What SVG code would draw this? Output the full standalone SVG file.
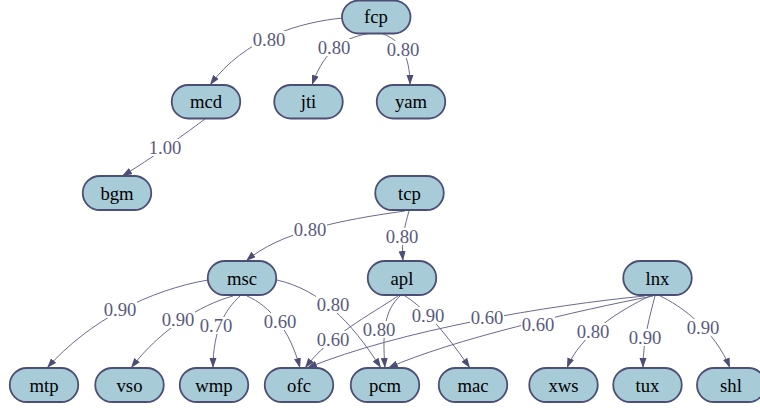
<svg xmlns="http://www.w3.org/2000/svg" width="760" height="410" viewBox="0 0 760 410">
<style>
.node rect{fill:#a8cbd8;stroke:#4c4e75;stroke-width:1.8}
.node text{font-family:'Liberation Serif','Times New Roman',serif;font-size:18.7px;fill:#000;text-anchor:middle}
.edge path{fill:none;stroke:#6a6a8e;stroke-width:1;marker-end:url(#arr)}
.edge text{font-family:'Liberation Serif','Times New Roman',serif;font-size:18.7px;fill:#5a5a80;text-anchor:middle}
</style>
<defs>
<marker id="arr" markerUnits="userSpaceOnUse" markerWidth="11" markerHeight="8" refX="10" refY="3.5" orient="auto">
<path d="M0,0 L10,3.5 L0,7 z" fill="#4c4e75"/>
</marker>
</defs>
<rect width="760" height="410" fill="#fff"/>
<g id="edges" class="edge">
<path d="M343,18 C300,22 245,38 210,85"/>
<path d="M372,33 C345,37 325,48 312,85"/>
<path d="M383,34 C400,40 410,55 410,85"/>
<path d="M205,119 C190,130 150,160 122,176"/>
<path d="M405,211 C340,220 280,232 246,261"/>
<path d="M409,211 C405,225 401,240 403,261"/>
<path d="M208,280 C150,290 90,320 47,368"/>
<path d="M233,296 C200,305 160,330 131,368"/>
<path d="M240,296 C225,310 213,330 213,368"/>
<path d="M247,296 C270,306 290,330 300,368"/>
<path d="M277,280 C320,290 350,320 381,368"/>
<path d="M398,296 C370,315 330,335 305,368"/>
<path d="M400,296 C385,310 382,330 385,368"/>
<path d="M405,296 C420,305 440,325 470,368"/>
<path d="M645,296 C550,305 400,330 307,368"/>
<path d="M653,296 C580,310 450,340 388,368"/>
<path d="M650,296 C620,310 580,335 567,368"/>
<path d="M655,296 C650,315 643,340 643,368"/>
<path d="M660,296 C680,305 715,330 730,368"/>
<g fill="#fff">
<rect x="252" y="31" width="34" height="17"/>
<rect x="317" y="39" width="34" height="17"/>
<rect x="386" y="41" width="34" height="17"/>
<rect x="148" y="139" width="34" height="17"/>
<rect x="293" y="221" width="34" height="17"/>
<rect x="385" y="228" width="34" height="17"/>
<rect x="103" y="301" width="34" height="17"/>
<rect x="161" y="311" width="34" height="17"/>
<rect x="199" y="317" width="34" height="17"/>
<rect x="263" y="313" width="34" height="17"/>
<rect x="316" y="296" width="34" height="17"/>
<rect x="316" y="331" width="34" height="17"/>
<rect x="362" y="321" width="34" height="17"/>
<rect x="411" y="307" width="34" height="17"/>
<rect x="470" y="309" width="34" height="17"/>
<rect x="521" y="316" width="34" height="17"/>
<rect x="576" y="323" width="34" height="17"/>
<rect x="628" y="329" width="34" height="17"/>
<rect x="686" y="319" width="34" height="17"/>
</g>
<text x="269" y="46">0.80</text>
<text x="334" y="54">0.80</text>
<text x="403" y="56">0.80</text>
<text x="165" y="154">1.00</text>
<text x="310" y="236">0.80</text>
<text x="402" y="243">0.80</text>
<text x="120" y="316">0.90</text>
<text x="178" y="326">0.90</text>
<text x="216" y="332">0.70</text>
<text x="280" y="328">0.60</text>
<text x="333" y="311">0.80</text>
<text x="333" y="346">0.60</text>
<text x="379" y="336">0.80</text>
<text x="428" y="322">0.90</text>
<text x="487" y="324">0.60</text>
<text x="538" y="331">0.60</text>
<text x="593" y="338">0.80</text>
<text x="645" y="344">0.90</text>
<text x="703" y="334">0.90</text>
</g>
<g id="fcp" class="node"><rect x="342" y="0.5" width="68.5" height="33" rx="16.5"/><text x="376" y="23">fcp</text></g>
<g id="mcd" class="node"><rect x="171.75" y="85" width="68.5" height="33.5" rx="16.5"/><text x="206" y="108">mcd</text></g>
<g id="jti" class="node"><rect x="274.25" y="85" width="68.5" height="33.5" rx="16.5"/><text x="308.5" y="108">jti</text></g>
<g id="yam" class="node"><rect x="376.75" y="85" width="68.5" height="33.5" rx="16.5"/><text x="411" y="108">yam</text></g>
<g id="bgm" class="node"><rect x="82.75" y="176" width="68.5" height="34" rx="17"/><text x="117" y="199.5">bgm</text></g>
<g id="tcp" class="node"><rect x="375.25" y="176" width="68.5" height="34" rx="17"/><text x="409.5" y="199.5">tcp</text></g>
<g id="msc" class="node"><rect x="207.75" y="261" width="68.5" height="34" rx="17"/><text x="242" y="284.5">msc</text></g>
<g id="apl" class="node"><rect x="367.75" y="261" width="68.5" height="34" rx="17"/><text x="402" y="284.5">apl</text></g>
<g id="lnx" class="node"><rect x="623.25" y="261" width="68.5" height="34" rx="17"/><text x="657.5" y="284.5">lnx</text></g>
<g id="mtp" class="node"><rect x="9.75" y="368" width="68.5" height="34" rx="17"/><text x="44" y="391.5">mtp</text></g>
<g id="vso" class="node"><rect x="95.25" y="368" width="68.5" height="34" rx="17"/><text x="129.5" y="391.5">vso</text></g>
<g id="wmp" class="node"><rect x="179.75" y="368" width="68.5" height="34" rx="17"/><text x="214" y="391.5">wmp</text></g>
<g id="ofc" class="node"><rect x="264.75" y="368" width="68.5" height="34" rx="17"/><text x="299" y="391.5">ofc</text></g>
<g id="pcm" class="node"><rect x="350.75" y="368" width="68.5" height="34" rx="17"/><text x="385" y="391.5">pcm</text></g>
<g id="mac" class="node"><rect x="438.75" y="368" width="68.5" height="34" rx="17"/><text x="473" y="391.5">mac</text></g>
<g id="xws" class="node"><rect x="529.25" y="368" width="68.5" height="34" rx="17"/><text x="563.5" y="391.5">xws</text></g>
<g id="tux" class="node"><rect x="613.25" y="368" width="68.5" height="34" rx="17"/><text x="647.5" y="391.5">tux</text></g>
<g id="shl" class="node"><rect x="697" y="368" width="68.5" height="34" rx="17"/><text x="731" y="391.5">shl</text></g>
</svg>
